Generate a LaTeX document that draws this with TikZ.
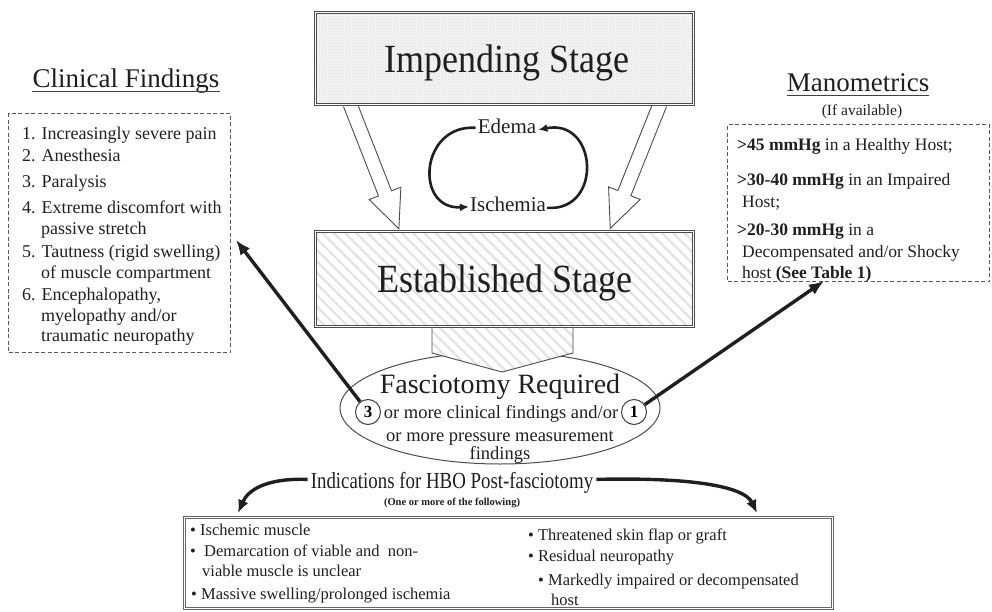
\documentclass[tikz,border=0pt]{standalone}
\usepackage{graphicx}
\usepackage{fontspec}
\setmainfont{Liberation Serif}
\usetikzlibrary{arrows.meta,patterns,patterns.meta,shapes.geometric,calc}
\begin{document}
\begin{tikzpicture}[x=1pt,y=-1pt,
  txt/.style={inner sep=0pt, text=black!88},
  li/.style={txt, anchor=base west, font=\fontsize{18}{21}\selectfont},
  ri/.style={txt, anchor=base west, font=\fontsize{17.5}{21}\selectfont},
  bi/.style={txt, anchor=base west, font=\fontsize{16.5}{20}\selectfont},
  ei/.style={txt, anchor=base, font=\fontsize{18.5}{21}\selectfont},
  stagebox/.style={draw=black!70, line width=1pt, double=white, double distance=1.8pt, inner sep=0pt},
  dashbox/.style={draw=black!65, line width=1.1pt, dash pattern=on 4pt off 2.5pt, inner sep=0pt},
  blockarr/.style={draw=black!70, line width=0.9pt, fill=white, line join=miter},
  hatch/.style={preaction={fill=white}, pattern={Lines[angle=-45, distance=8pt, line width=2.2pt]}, pattern color=gray!22},
  bigarr/.style={draw=black!88, line width=3.4pt, -{Latex[length=15pt,width=12pt]}},
  cycarr/.style={draw=black!88, line width=2.6pt, -{Latex[length=9pt,width=8pt]}},
  curvarr/.style={draw=black!88, line width=3.4pt, -{Latex[length=13pt,width=11pt]}},
]
\useasboundingbox (0,0) rectangle (992,612);

% ---- block arrows between the stages
\coordinate (la) at (350,104);
\coordinate (ra) at (660,104);
\begin{scope}[shift={(la)}, rotate=-68.6]
  \draw[blockarr] (0,-7) -- (96,-7) -- (96,-17) -- (134,0) -- (96,17) -- (96,7) -- (0,7);
\end{scope}
\begin{scope}[shift={(ra)}, rotate=-111.8]
  \draw[blockarr] (0,-7) -- (96,-7) -- (96,-17) -- (134,0) -- (96,17) -- (96,7) -- (0,7);
\end{scope}

% ---- stage boxes
\node[stagebox, anchor=north west, minimum width=378pt, minimum height=92pt,
      preaction={fill=gray!9}, pattern=crosshatch dots, pattern color=gray!30] (imp) at (315,12) {};
\node[txt, anchor=base, font=\fontsize{40}{44}\selectfont] (impt) at (507,73) {\scalebox{0.9}[1]{Impending Stage}};

% ---- edema / ischemia cycle
\node[txt, font=\fontsize{21}{24}\selectfont, anchor=base] (ede) at (507,134) {Edema};
\node[txt, font=\fontsize{21}{24}\selectfont, anchor=base] (isc) at (508,212) {Ischemia};
\draw[cycarr] ([xshift=-2pt,yshift=-1pt]ede.west) .. controls (420,124) and (414,210) .. ([xshift=-1pt,yshift=-2pt]isc.west);
\draw[cycarr] ([xshift=1pt,yshift=-3pt]isc.east) .. controls (603,212) and (598,118) .. ([xshift=2pt,yshift=-3pt]ede.east);

% ---- fasciotomy ellipse and the connector from the established stage
\node[draw=black!70, line width=1pt, ellipse, minimum width=320pt, minimum height=112pt] (fas) at (500,408) {};
\draw[draw=black!70, line width=0.9pt, hatch] (432,326) -- (432,353) -- (502,372) -- (573,353) -- (573,326);

\node[stagebox, anchor=north west, minimum width=378pt, minimum height=95pt, hatch] (est) at (315,231) {};
\node[txt, anchor=base, font=\fontsize{40}{44}\selectfont] (estt) at (505,292) {\scalebox{0.9}[1]{Established Stage}};

\node[txt, anchor=base, font=\fontsize{28}{32}\selectfont] (fasr) at (500,393) {Fasciotomy Required};
\node[ei] (fl2) at (501,418) {or more clinical findings and/or};
\node[ei] (fl3) at (500,441) {or more pressure measurement};
\node[ei] (fl4) at (500,459) {findings};
\node[draw=black!75, line width=1pt, circle, fill=white, minimum size=25pt, inner sep=0pt, font=\fontsize{17}{20}\selectfont\bfseries] (n3) at (368,412) {3};
\node[draw=black!75, line width=1pt, circle, fill=white, minimum size=25pt, inner sep=0pt, font=\fontsize{17}{20}\selectfont\bfseries] (n1) at (634,412) {1};

% ---- clinical findings
\node[txt, anchor=base, font=\fontsize{27}{30}\selectfont] (cft) at (126,88) {Clinical Findings};
\draw[black!75, line width=1pt] ([yshift=-4pt]cft.base west) -- ([yshift=-4pt]cft.base east);
\node[dashbox, anchor=north west, minimum width=222pt, minimum height=239pt] (cfbox) at (8,113) {};
\node[li] (l1) at (22,140) {1. Increasingly severe pain};
\node[li] (l2) at (22,162) {2. Anesthesia};
\node[li] (l3) at (22,188) {3. Paralysis};
\node[li] (l4) at (22,214) {4. Extreme discomfort with};
\node[li] (l4b) at (41,235) {passive stretch};
\node[li] (l5) at (22,257) {5. Tautness (rigid swelling)};
\node[li] (l5b) at (41,278) {of muscle compartment};
\node[li] (l6) at (22,300) {6. Encephalopathy,};
\node[li] (l6b) at (41,321) {myelopathy and/or};
\node[li] (l6c) at (41,341) {traumatic neuropathy};

% ---- manometrics
\node[txt, anchor=base, font=\fontsize{27}{30}\selectfont] (mt) at (858,92) {Manometrics};
\draw[black!75, line width=1pt] ([yshift=-4pt]mt.base west) -- ([yshift=-4pt]mt.base east);
\node[txt, anchor=base, font=\fontsize{15.5}{18}\selectfont] (ifa) at (862,116) {(If available)};
\node[dashbox, anchor=north west, minimum width=262pt, minimum height=157pt] (mbox) at (727,124) {};
\node[ri] (m1) at (737,151) {\textbf{>45 mmHg} in a Healthy Host;};
\node[ri] (m2) at (737,186) {\textbf{>30-40 mmHg} in an Impaired};
\node[ri] (m2b) at (742,208) {Host;};
\node[ri] (m3) at (737,236) {\textbf{>20-30 mmHg} in a};
\node[ri] (m3b) at (742,258) {Decompensated and/or Shocky};
\node[ri] (m3c) at (742,278) {host \textbf{(See Table 1)}};

% ---- arrows from the counts to the boxes
\coordinate (tipL) at (236,240);
\coordinate (tipR) at (824,281);
\draw[bigarr] (n3) -- (tipL);
\draw[bigarr] (n1) -- (tipR);

% ---- HBO indications
\node[txt, anchor=base, font=\fontsize{23}{26}\selectfont] (hbo) at (452,488) {\scalebox{0.82}[1]{Indications for HBO Post-fasciotomy}};
\node[txt, anchor=base, font=\fontsize{10.5}{12}\selectfont\bfseries] (one) at (452,505) {(One or more of the following)};
\draw[curvarr] ([xshift=-3pt,yshift=3pt]hbo.west) .. controls (266,478) and (248,490) .. (238,513);
\draw[curvarr] ([xshift=3pt,yshift=3pt]hbo.east) .. controls (700,477) and (745,488) .. (757,513);

\node[draw=black!60, line width=1pt, double=white, double distance=1pt, anchor=north west, minimum width=648pt, minimum height=91pt, inner sep=0pt] (bbox) at (184,517) {};
\node[bi] (b1) at (190,535) {\textbullet\ Ischemic muscle};
\node[bi] (b2) at (190,556) {\textbullet\ \ Demarcation of viable and\ \ non-};
\node[bi] (b2b) at (202,576) {viable muscle is unclear};
\node[bi] (b3) at (191,599) {\textbullet\ Massive swelling/prolonged ischemia};
\node[bi] (b4) at (528,540) {\textbullet\ Threatened skin flap or graft};
\node[bi] (b5) at (528,561) {\textbullet\ Residual neuropathy};
\node[bi] (b6) at (538,585) {\textbullet\ Markedly impaired or decompensated};
\node[bi] (b6b) at (551,605) {host};
\end{tikzpicture}
\end{document}
